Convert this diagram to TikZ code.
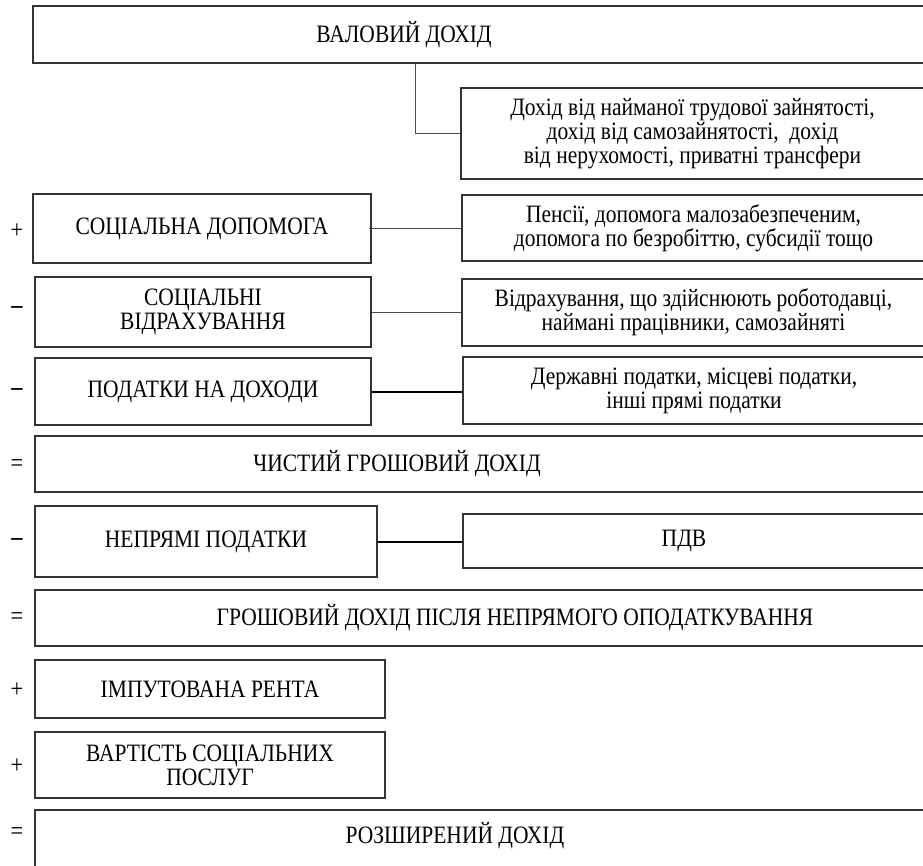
\documentclass[tikz,border=0pt]{standalone}
\usepackage{fontspec}
\setmainfont[FakeStretch=0.86]{Liberation Serif}
\begin{document}
\begin{tikzpicture}[x=1pt,y=-1pt,
  box/.style={draw=black!80, line width=1.1pt, rectangle, inner sep=0pt, align=center,
     font=\fontsize{25}{24}\selectfont},
  desc/.style={box, font=\fontsize{25}{24}\selectfont},
  lbl/.style={inner sep=0pt, font=\fontsize{25}{24}\selectfont},
  sign/.style={inner sep=0pt, font=\fontsize{26}{24}\selectfont},
  thinconn/.style={draw=black!70, line width=1pt},
  thickconn/.style={draw=black, line width=2pt}]
\useasboundingbox (0,0) rectangle (923,865);
\clip (0,0) rectangle (923,865);
\fill[white] (0,0) rectangle (923,865);
% boxes
\node[box, minimum width=897pt, minimum height=57pt] (gross) at (481.5,34.5) {};
\node[lbl] (tgross) at (404,35) {ВАЛОВИЙ ДОХІД};
\node[desc, minimum width=463pt, minimum height=91pt] (d1) at (692.5,133.5)
  {Дохід від найманої трудової зайнятості,\\дохід від самозайнятості,\ \ дохід\\від нерухомості, приватні трансфери};
\node[box, minimum width=338pt, minimum height=69pt] (sa) at (202,228.5) {СОЦІАЛЬНА ДОПОМОГА};
\node[desc, minimum width=463pt, minimum height=66pt] (d2) at (693.5,228)
  {Пенсії, допомога малозабезпеченим,\\допомога по безробіттю, субсидії тощо};
\node[box, minimum width=336pt, minimum height=70pt] (sc) at (203,312) {СОЦІАЛЬНІ\\ВІДРАХУВАННЯ};
\node[desc, minimum width=463pt, minimum height=67pt] (d3) at (693.5,312.5)
  {Відрахування, що здійснюють роботодавці,\\наймані працівники, самозайняті};
\node[box, minimum width=336pt, minimum height=67pt] (pt) at (203,391.5) {ПОДАТКИ НА ДОХОДИ};
\node[desc, minimum width=462pt, minimum height=67pt] (d4) at (694,390.5)
  {Державні податки, місцеві податки,\\інші прямі податки};
\node[box, minimum width=895pt, minimum height=56pt] (ni) at (482.5,464) {};
\node[lbl] (tni) at (397,464) {ЧИСТИЙ ГРОШОВИЙ ДОХІД};
\node[box, minimum width=342pt, minimum height=71pt] (ip) at (206,541.5) {НЕПРЯМІ ПОДАТКИ};
\node[desc, minimum width=462pt, minimum height=54pt] (vat) at (694,541) {\hspace*{-20pt}ПДВ};
\node[box, minimum width=895pt, minimum height=56pt] (ai) at (482.5,618) {};
\node[lbl] (tai) at (515,618) {ГРОШОВИЙ ДОХІД ПІСЛЯ НЕПРЯМОГО ОПОДАТКУВАННЯ};
\node[box, minimum width=350pt, minimum height=58pt] (ir) at (210,689) {ІМПУТОВАНА РЕНТА};
\node[box, minimum width=350pt, minimum height=66pt] (ss) at (210,765) {ВАРТІСТЬ СОЦІАЛЬНИХ\\ПОСЛУГ};
\node[box, minimum width=895pt, minimum height=80pt] (ext) at (482.5,850) {};
\node[lbl] (text) at (455,836) {РОЗШИРЕНИЙ ДОХІД};
% signs
\node[sign] (s1) at (17,231) {+};
\node[sign] (s2) at (17,310) {\textbf{–}};
\node[sign] (s3) at (17,392) {\textbf{–}};
\node[sign] (s4) at (17,466) {=};
\node[sign] (s5) at (17,542) {\textbf{–}};
\node[sign] (s6) at (17,619) {=};
\node[sign] (s7) at (17,690) {+};
\node[sign] (s8) at (17,766) {+};
\node[sign] (s9) at (17,834) {=};
% connectors
\coordinate (k1) at (415,0);
\draw[thinconn] (gross.south -| k1) |- (d1.west);
\draw[thinconn] ([xshift=-3pt]sa.east) -- (sa.east -| d2.west);
\draw[thinconn] (sc.east) -- (sc.east -| d3.west);
\draw[thickconn] (pt.east) -- (pt.east -| d4.west);
\draw[thickconn] (ip.east) -- (ip.east -| vat.west);
\end{tikzpicture}
\end{document}
